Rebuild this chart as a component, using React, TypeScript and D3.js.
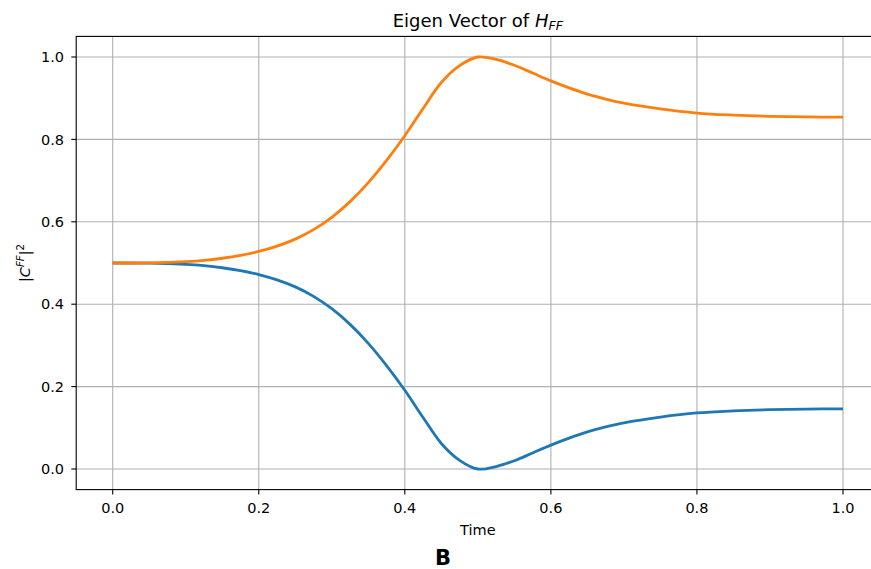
import React, { useEffect, useRef } from 'react'
import * as d3 from 'd3'

// sample times (denser where the curves bend)
const times = [0, 0.05, 0.1, 0.125, 0.15, 0.175, 0.2, 0.225, 0.25, 0.275, 0.3, 0.325, 0.35, 0.375,
  0.4, 0.425, 0.45, 0.475, 0.5, 0.525, 0.55, 0.575, 0.6, 0.625, 0.65, 0.675, 0.7,
  0.75, 0.8, 0.85, 0.9, 0.95, 1.0]

const blueValues = [0.5, 0.4995, 0.4965, 0.4935, 0.4885, 0.4815, 0.472, 0.459, 0.442, 0.419, 0.389,
  0.351, 0.305, 0.251, 0.191, 0.125, 0.062, 0.021, 0.0, 0.006, 0.02, 0.039, 0.058, 0.075, 0.09,
  0.102, 0.112, 0.126, 0.136, 0.141, 0.144, 0.1455, 0.146]

const orangeValues = [0.5, 0.5005, 0.5035, 0.5065, 0.5115, 0.5185, 0.528, 0.541, 0.558, 0.581, 0.611,
  0.649, 0.695, 0.749, 0.809, 0.875, 0.938, 0.979, 1.0, 0.994, 0.98, 0.961, 0.942, 0.925, 0.91,
  0.898, 0.888, 0.874, 0.864, 0.859, 0.856, 0.8545, 0.854]

const xTicks = [0.0, 0.2, 0.4, 0.6, 0.8, 1.0]
const yTicks = [0.0, 0.2, 0.4, 0.6, 0.8, 1.0]

const FONT = '"DejaVu Sans", sans-serif'

export default function App() {
  const ref = useRef<SVGSVGElement>(null)

  useEffect(() => {
    const svg = d3.select(ref.current)
    svg.selectAll('*').remove()

    const left = 76.2, right = 879.5, top = 36.4, bottom = 489.6
    const x = d3.scaleLinear().domain([-0.05, 1.05]).range([left, right])
    const y = d3.scaleLinear().domain([-0.05, 1.05]).range([bottom, top])

    svg.append('rect').attr('width', 871).attr('height', 569).attr('fill', '#fff')

    // grid
    const grid = svg.append('g').attr('stroke', '#b0b0b0').attr('stroke-width', 1.1)
    xTicks.forEach(t => {
      grid.append('line').attr('x1', x(t)).attr('x2', x(t)).attr('y1', top).attr('y2', bottom)
    })
    yTicks.forEach(t => {
      grid.append('line').attr('x1', left).attr('x2', right).attr('y1', y(t)).attr('y2', y(t))
    })

    // lines
    const line = d3.line<number>()
      .x((d, i) => x(times[i]))
      .y(d => y(d))
      .curve(d3.curveCatmullRom.alpha(0.5))

    svg.append('path').attr('d', line(blueValues))
      .attr('fill', 'none').attr('stroke', '#1f77b4').attr('stroke-width', 2.8)
    svg.append('path').attr('d', line(orangeValues))
      .attr('fill', 'none').attr('stroke', '#ff7f0e').attr('stroke-width', 2.8)

    // spines
    svg.append('rect')
      .attr('x', left).attr('y', top)
      .attr('width', right - left).attr('height', bottom - top)
      .attr('fill', 'none').attr('stroke', '#000').attr('stroke-width', 1.1)

    // ticks
    const tk = svg.append('g').attr('font-family', FONT).attr('font-size', 14.5).attr('fill', '#000')
    xTicks.forEach(t => {
      tk.append('line').attr('x1', x(t)).attr('x2', x(t)).attr('y1', bottom).attr('y2', bottom + 4.9)
        .attr('stroke', '#000').attr('stroke-width', 1.1)
      tk.append('text').attr('x', x(t)).attr('y', 512.5).attr('text-anchor', 'middle').text(t.toFixed(1))
    })
    yTicks.forEach(t => {
      tk.append('line').attr('x1', left - 4.9).attr('x2', left).attr('y1', y(t)).attr('y2', y(t))
        .attr('stroke', '#000').attr('stroke-width', 1.1)
      tk.append('text').attr('x', 64).attr('y', y(t) + 5.2).attr('text-anchor', 'end').text(t.toFixed(1))
    })

    // title
    const title = svg.append('text')
      .attr('x', (left + right) / 2).attr('y', 26.7)
      .attr('text-anchor', 'middle')
      .attr('font-family', FONT).attr('font-size', 18).attr('fill', '#000')
    title.append('tspan').text('Eigen Vector of ')
    title.append('tspan').attr('font-style', 'italic').text('H')
    title.append('tspan').attr('font-style', 'italic').attr('font-size', 12.6)
      .attr('dy', 3.5).text('FF')

    // x label
    svg.append('text')
      .attr('x', (left + right) / 2).attr('y', 535)
      .attr('text-anchor', 'middle')
      .attr('font-family', FONT).attr('font-size', 14.5).attr('fill', '#000')
      .text('Time')

    // y label
    const yl = svg.append('text')
      .attr('transform', `translate(29.5,${(top + bottom) / 2}) rotate(-90)`)
      .attr('text-anchor', 'middle')
      .attr('font-family', FONT).attr('font-size', 14.5).attr('fill', '#000')
    yl.append('tspan').text('|')
    yl.append('tspan').attr('font-style', 'italic').text('C')
    yl.append('tspan').attr('font-style', 'italic').attr('font-size', 10.2).attr('dy', -6).text('FF')
    yl.append('tspan').attr('dy', 6).text('|')
    yl.append('tspan').attr('font-size', 10.2).attr('dy', -6).text('2')

    // panel letter
    svg.append('text')
      .attr('x', 443).attr('y', 565)
      .attr('text-anchor', 'middle')
      .attr('font-family', FONT).attr('font-size', 21).attr('font-weight', 'bold').attr('fill', '#000')
      .text('B')
  }, [])

  return (
    <div style={{ position: 'absolute', left: 0, top: 0 }}>
      <svg ref={ref} width={871} height={569} style={{ display: 'block' }}></svg>
    </div>
  )
}
